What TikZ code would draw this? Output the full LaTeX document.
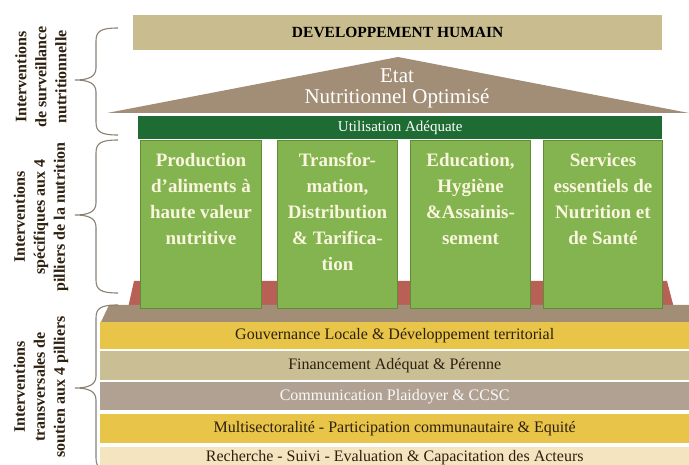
\documentclass[tikz,border=0pt]{standalone}
\usepackage{fontspec}
\setmainfont{Liberation Serif}
\usepackage{xcolor}
\usepackage{tikz}
\usetikzlibrary{positioning}

\definecolor{bannertan}{RGB}{201,189,143}
\definecolor{roofbrown}{RGB}{162,142,118}
\definecolor{utilgreen}{RGB}{30,108,52}
\definecolor{pillargreen}{RGB}{131,180,80}
\definecolor{pillaredge}{RGB}{96,140,56}
\definecolor{plinthred}{RGB}{184,96,86}
\definecolor{bandyellow}{RGB}{232,196,72}
\definecolor{bandtan}{RGB}{202,191,148}
\definecolor{bandgrey}{RGB}{176,161,146}
\definecolor{bandcream}{RGB}{244,229,192}
\definecolor{bracegrey}{RGB}{138,128,115}
\definecolor{textbrown}{RGB}{45,32,15}
\definecolor{pillartext}{RGB}{250,246,222}

\begin{document}
\begin{tikzpicture}[
            x=1pt, y=-1pt,
            banner/.style={rectangle, inner sep=0pt, anchor=north west},
            pillar/.style={rectangle, draw=pillaredge, line width=1pt, fill=pillargreen, inner sep=0pt, minimum height=168pt, anchor=north west},
            pillartxt/.style={align=center, inner sep=0pt, text=pillartext, font=\bfseries\fontsize{19}{26}\selectfont},
            band/.style={rectangle, inner sep=0pt, minimum width=589pt, anchor=north west, text=textbrown, font=\fontsize{16}{19}\selectfont},
            sidelabel/.style={rotate=90, align=center, text=textbrown, font=\bfseries\fontsize{16}{20}\selectfont},
            bracket/.style={draw=bracegrey, line width=1.1pt}
        ]

        \useasboundingbox (0,0) rectangle (689,465);
        \clip (0,0) rectangle (689,465);

        % Top of the house
        \node[banner, fill=bannertan, minimum width=529pt, minimum height=35pt, font=\bfseries\fontsize{15.5}{18}\selectfont] (dev) at (133,15) {DEVELOPPEMENT HUMAIN};
        \fill[roofbrown] (107,113) -- (398,57) -- (689,113) -- cycle;
        \node[align=center, text=white, font=\fontsize{21}{21}\selectfont] (etat) at (397,88) {Etat\\Nutritionnel Optimisé};
        \node[banner, fill=utilgreen, minimum width=524pt, minimum height=23pt, text=white, font=\fontsize{15}{18}\selectfont] (util) at (138,116) {Utilisation Adéquate};

        % Plinth under the pillars
        \fill[plinthred] (128,308) -- (134,281) -- (667,281) -- (674,308) -- cycle;
        \fill[roofbrown] (101,322) -- (109,305) -- (689,305) -- (689,322) -- cycle;

        % Pillars (manual layout to match figure)
        \node[pillar, minimum width=121pt] (p1) at (140,140) {};
        \node[pillar, minimum width=120pt] (p2) at (277,140) {};
        \node[pillar, minimum width=120pt] (p3) at (410,140) {};
        \node[pillar, minimum width=119pt] (p4) at (543,140) {};

        \node[pillartxt, below=13pt of p1.north] (p1txt) {Production\\d’aliments à\\haute valeur\\nutritive};
        \node[pillartxt, below=13pt of p2.north] (p2txt) {Transfor-\\mation,\\Distribution\\\& Tarifica-\\tion};
        \node[pillartxt, below=13pt of p3.north] (p3txt) {Education,\\Hygiène\\\&Assainis-\\sement};
        \node[pillartxt, below=13pt of p4.north] (p4txt) {Services\\essentiels de\\Nutrition et\\de Santé};

        % Cross-cutting bands
        \node[band, fill=bandyellow, minimum height=27pt] (gouv) at (100,322) {Gouvernance Locale \& Développement territorial};
        \node[band, fill=bandtan, minimum height=29pt] (fin) at (100,351) {Financement Adéquat \& Pérenne};
        \node[band, fill=bandgrey, minimum height=28pt, text=white!94!bandgrey] (comm) at (100,382) {Communication Plaidoyer \& CCSC};
        \node[band, fill=bandyellow, minimum height=29pt] (multi) at (100,414) {Multisectoralité - Participation communautaire \& Equité};
        \node[band, fill=bandcream, minimum height=21pt] (rech) at (100,447) {Recherche - Suivi - Evaluation \& Capacitation des Acteurs};

        % Braces
        \draw[bracket] (118,28) .. controls (101,28) and (96,31) .. (96,41) -- (96,68) .. controls (96,77) and (88,80) .. (75,80)
            .. controls (88,80) and (96,83) .. (96,92) -- (96,122) .. controls (96,132) and (101,135) .. (118,135);
        \draw[bracket] (118,140) .. controls (101,140) and (96,143) .. (96,153) -- (96,203) .. controls (96,212) and (88,215) .. (75,215)
            .. controls (88,215) and (96,218) .. (96,227) -- (96,280) .. controls (96,290) and (101,293) .. (118,293);
        \draw[bracket] (118,305) .. controls (101,305) and (96,308) .. (96,318) -- (96,376) .. controls (96,385) and (88,388) .. (75,388)
            .. controls (88,388) and (96,391) .. (96,400) -- (96,458) .. controls (96,468) and (101,471) .. (118,471);

        % Side labels
        \node[sidelabel] (surv) at (41,77) {Interventions\\de surveillance\\nutritionnelle};
        \node[sidelabel] (spec) at (41,217) {Interventions\\spécifiques aux 4\\pilliers de la nutrition};
        \node[sidelabel] (trans) at (41,387) {Interventions\\transversales de\\soutien aux 4 pilliers};

    \end{tikzpicture}
\end{document}
